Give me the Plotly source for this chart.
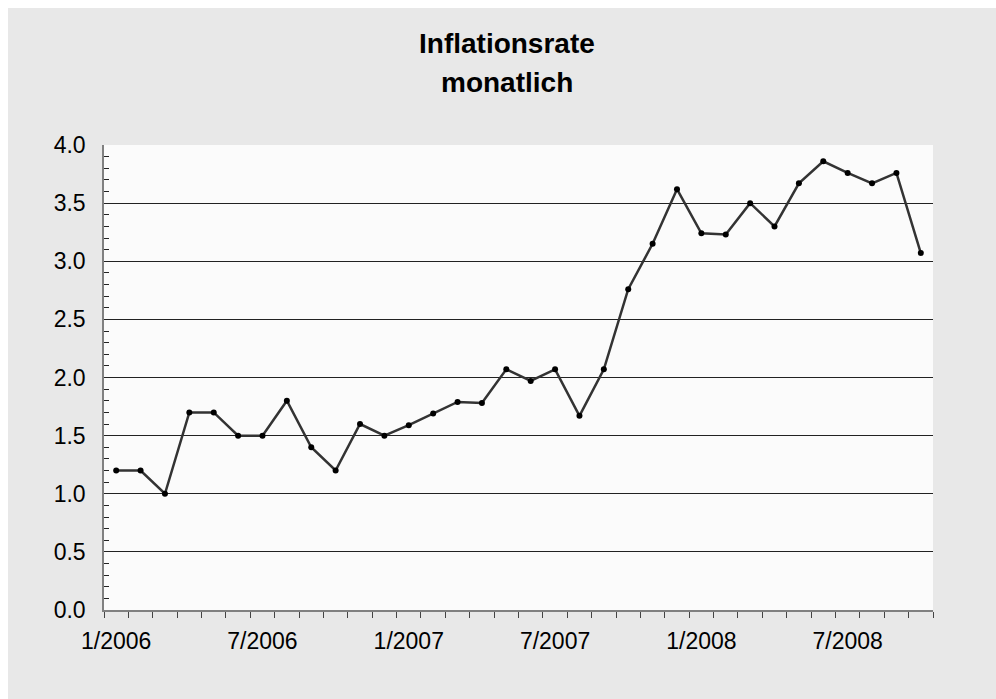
import plotly.graph_objects as go

months = [f"{m}/{y}" for y in (2006, 2007, 2008) for m in range(1, 13)][:34]
rates = [1.2, 1.2, 1.0, 1.7, 1.7, 1.5, 1.5, 1.8, 1.4, 1.2, 1.6, 1.5,
         1.59, 1.69, 1.79, 1.78, 2.07, 1.97, 2.07, 1.67, 2.07, 2.76, 3.15, 3.62,
         3.24, 3.23, 3.50, 3.30, 3.67, 3.86, 3.76, 3.67, 3.76, 3.07]
label_every = 6
tick_text = [m if i % label_every == 0 else "" for i, m in enumerate(months)]
title_lines = ["Inflationsrate", "monatlich"]

W, H = 996, 699
L, R, T, B = 104, 63, 145, 89
pw, ph = W - L - R, H - T - B

fig = go.Figure()
fig.add_trace(go.Scatter(
    x=months, y=rates, mode="lines+markers",
    line=dict(color="#333333", width=2.5),
    marker=dict(color="#000000", size=6),
    showlegend=False, hoverinfo="x+y",
))

font_family = "Liberation Sans, Arial, sans-serif"

def px_x(p):
    return (p - L) / pw

def px_y(p):
    return (H - B - p) / ph

title_ann = [
    dict(text=f"<b>{t}</b>", xref="paper", yref="paper",
         x=px_x(506.5), y=px_y(cy), xanchor="center", yanchor="middle",
         showarrow=False, font=dict(family=font_family, size=28, color="#000000"))
    for t, cy in zip(title_lines, (43, 82))
]

fig.update_layout(
    width=W, height=H,
    margin=dict(l=L, r=R, t=T, b=B, pad=0),
    paper_bgcolor="#e8e8e8",
    plot_bgcolor="#fbfbfb",
    font=dict(family=font_family, size=23, color="#000000"),
    annotations=title_ann,
    shapes=[
        dict(type="rect", xref="paper", yref="paper", layer="above",
             x0=px_x(0), x1=px_x(W), y0=px_y(8), y1=px_y(0),
             fillcolor="#ffffff", line=dict(width=0)),
        dict(type="rect", xref="paper", yref="paper", layer="above",
             x0=px_x(0), x1=px_x(8), y0=px_y(H), y1=px_y(0),
             fillcolor="#ffffff", line=dict(width=0)),
    ],
)

fig.update_xaxes(
    type="category",
    categoryorder="array", categoryarray=months,
    range=[-0.5, len(months) - 0.5], autorange=False,
    tickmode="array", tickvals=months, ticktext=tick_text,
    tickson="boundaries", tickangle=0,
    ticks="outside", ticklen=6, tickwidth=1, tickcolor="#444444",
    showline=True, linecolor="#808080", linewidth=1.5,
    showgrid=False, zeroline=False,
    tickfont=dict(size=23, color="#000000"),
    ticklabelstandoff=10,
)
fig.update_yaxes(
    range=[0, 4], dtick=0.5, tick0=0, tickformat=".1f",
    ticks="inside", ticklen=7, tickwidth=1, tickcolor="#222222",
    minor=dict(dtick=0.1, ticks="inside", ticklen=5, tickcolor="#222222", showgrid=False),
    showline=True, linecolor="#808080", linewidth=1.5,
    showgrid=True, gridcolor="#222222", gridwidth=1,
    zeroline=False,
    tickfont=dict(size=23, color="#000000"),
    ticklabelstandoff=12,
)

fig.write_html("out.html")
